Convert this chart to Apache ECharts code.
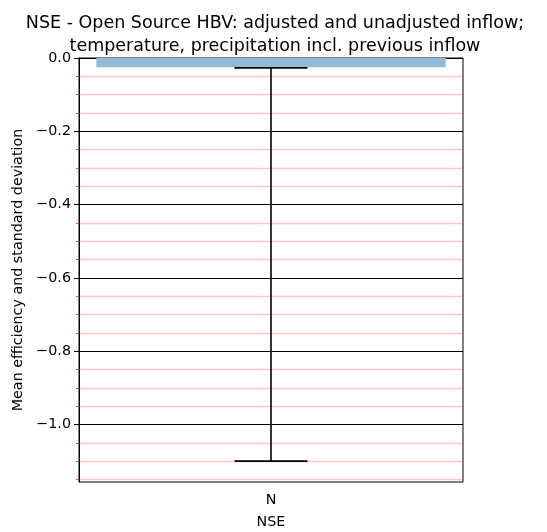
<!DOCTYPE html>
<html><head><meta charset="utf-8">
<script src="https://cdn.jsdelivr.net/npm/echarts@6/dist/echarts.min.js"></script>
<style>html,body{margin:0;padding:0;background:#fff}#c{width:547px;height:532px}</style>
</head><body><div id="c"></div>
<script>
const categories = ['N'];
const barValues = [-0.025];
const errLow = [-1.100];
const errHigh = [-0.027];
const majorTicks = [0, -0.2, -0.4, -0.6, -0.8, -1.0];
const minorTicks = [-0.05,-0.1,-0.15,-0.25,-0.3,-0.35,-0.45,-0.5,-0.55,-0.65,-0.7,-0.75,-0.85,-0.9,-0.95,-1.05,-1.1,-1.15];
const yMin = -1.157, yMax = 0;
const titleText = 'NSE - Open Source HBV: adjusted and unadjusted inflow;\ntemperature, precipitation incl. previous inflow';

const font = 'DejaVu Sans';
const chart = echarts.init(document.getElementById('c'), null, {renderer:'canvas'});
const fmt = v => (Math.abs(v) < 1e-9 ? '0.0' : '\u2212' + Math.abs(v).toFixed(1));
const mkLines = (vals, style) => ({silent: true, symbol: 'none', label: {show: false}, animation: false,
  lineStyle: style, emphasis: {disabled: true},
  data: vals.map(v => ({yAxis: v}))});

chart.setOption({
  animation: false,
  title: {text: titleText, left: 270, textAlign: 'center', top: 7,
    textStyle: {fontFamily: font, fontSize: 17.5, fontWeight: 'normal', color: '#000', lineHeight: 23}},
  grid: {left: 79, right: 84, top: 58, bottom: 50, outerBoundsMode: 'none', containLabel: false,
    show: true, borderColor: '#000', borderWidth: 1, backgroundColor: 'transparent'},
  xAxis: {type: 'category', data: categories, boundaryGap: true,
    name: 'NSE', nameLocation: 'middle', nameGap: 33,
    nameTextStyle: {fontFamily: font, fontSize: 14.3, color: '#000'},
    axisLine: {show: true, lineStyle: {color: '#000', width: 1}},
    axisTick: {show: true, alignWithLabel: true, length: 5, lineStyle: {color: '#000'}},
    axisLabel: {fontFamily: font, fontSize: 14.3, color: '#000', margin: 11},
    splitLine: {show: false}},
  yAxis: [{type: 'value', min: yMin, max: yMax,
    name: 'Mean efficiency and standard deviation', nameLocation: 'middle', nameGap: 52,
    nameTextStyle: {fontFamily: font, fontSize: 14.3, color: '#000'},
    axisLine: {show: true, lineStyle: {color: '#000', width: 1}},
    axisTick: {show: true, length: 5, customValues: majorTicks, lineStyle: {color: '#000'}},
    axisLabel: {customValues: majorTicks, formatter: fmt, fontFamily: font, fontSize: 14.3, color: '#000', margin: 8},
    splitLine: {show: false}, minorSplitLine: {show: false}},
   {type: 'value', min: yMin, max: yMax, position: 'left',
    axisLine: {show: false},
    axisTick: {show: true, length: 3, customValues: minorTicks, lineStyle: {color: '#ff4444'}},
    axisLabel: {show: false, customValues: minorTicks},
    splitLine: {show: false}, minorSplitLine: {show: false}}],
  series: [
    {type: 'bar', data: barValues, barWidth: '91%', itemStyle: {color: '#8fbbd9'}, z: 1,
     markLine: mkLines(minorTicks, {color: 'rgba(255,0,0,0.22)', width: 1.3, type: 'solid'})},
    {type: 'line', data: [], z: 2,
     markLine: mkLines(majorTicks.filter(v => v !== 0), {color: '#000', width: 1, type: 'solid'})},
    {type: 'custom', z: 5,
     data: categories.map((c, i) => [i, errLow[i], errHigh[i]]),
     renderItem: (params, api) => {
       const x = api.value(0);
       const lo = api.coord([x, api.value(1)]);
       const hi = api.coord([x, api.value(2)]);
       const half = api.size([1, 0])[0] * 0.095;
       const st = {stroke: '#000', lineWidth: 1.6};
       return {type: 'group', children: [
         {type: 'line', shape: {x1: lo[0], y1: lo[1], x2: hi[0], y2: hi[1]}, style: st},
         {type: 'line', shape: {x1: lo[0]-half, y1: lo[1], x2: lo[0]+half, y2: lo[1]}, style: st},
         {type: 'line', shape: {x1: hi[0]-half, y1: hi[1], x2: hi[0]+half, y2: hi[1]}, style: st}
       ]};
     }}
  ]
});
</script></body></html>
